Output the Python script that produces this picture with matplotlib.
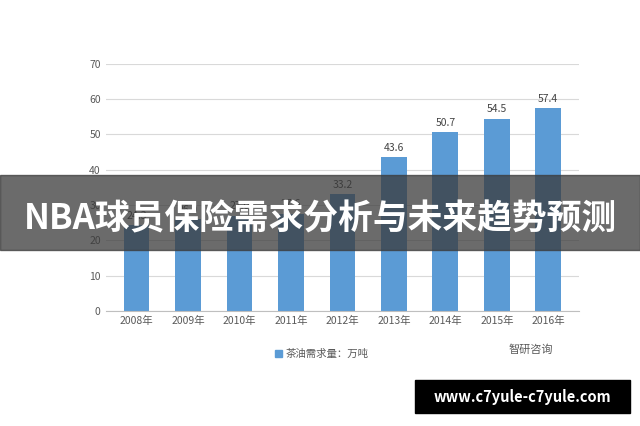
import matplotlib.pyplot as plt
from matplotlib.patches import Rectangle

plt.rcParams['font.family'] = ['Noto Sans CJK SC', 'DejaVu Sans']

years = ['2008年', '2009年', '2010年', '2011年', '2012年', '2013年', '2014年', '2015年', '2016年']
demand = [24.3, 26.0, 27.0, 27.6, 33.2, 43.6, 50.7, 54.5, 57.4]

fig = plt.figure(figsize=(6.4, 4.26), dpi=100)
ax = fig.add_axes([0.165, 0.27, 0.74, 0.58])

ax.bar(years, demand, width=0.5, color='#5b9bd5', zorder=2)
for i, v in enumerate(demand):
    ax.text(i, v + 1.2, f'{v:.1f}', ha='center', va='bottom', fontsize=7.5, color='#444444')

ax.set_ylim(0, 70)
ax.set_yticks(range(0, 71, 10))
ax.grid(axis='y', color='#d9d9d9', linewidth=0.8, zorder=0)
for s in ['top', 'right', 'left']:
    ax.spines[s].set_visible(False)
ax.spines['bottom'].set_color('#bfbfbf')
ax.tick_params(length=0, labelsize=7.5, labelcolor='#595959')
ax.set_xlim(-0.6, 8.6)

# legend and source
fig.patches.append(Rectangle((0.43, 0.163), 0.01, 0.015, transform=fig.transFigure, color='#5b9bd5'))
fig.text(0.447, 0.17, '茶油需求量：万吨', fontsize=7.5, color='#595959', va='center')
fig.text(0.795, 0.18, '智研咨询', fontsize=8, color='#595959', va='center')

# banner overlay
fig.patches.append(Rectangle((0, 0.413), 1, 0.176, transform=fig.transFigure,
                             color='#3a3a3a', alpha=0.75, zorder=5))
fig.text(0.5, 0.485, 'NBA球员保险需求分析与未来趋势预测', fontsize=25, fontweight='bold',
         color='white', ha='center', va='center', zorder=6)

# url box
fig.patches.append(Rectangle((0.648, 0.03), 0.336, 0.077, transform=fig.transFigure,
                             color='black', zorder=5))
fig.text(0.816, 0.068, 'www.c7yule-c7yule.com', fontsize=10.5, fontweight='bold',
         color='white', ha='center', va='center', zorder=6)

fig.savefig('out.png', dpi=100)
